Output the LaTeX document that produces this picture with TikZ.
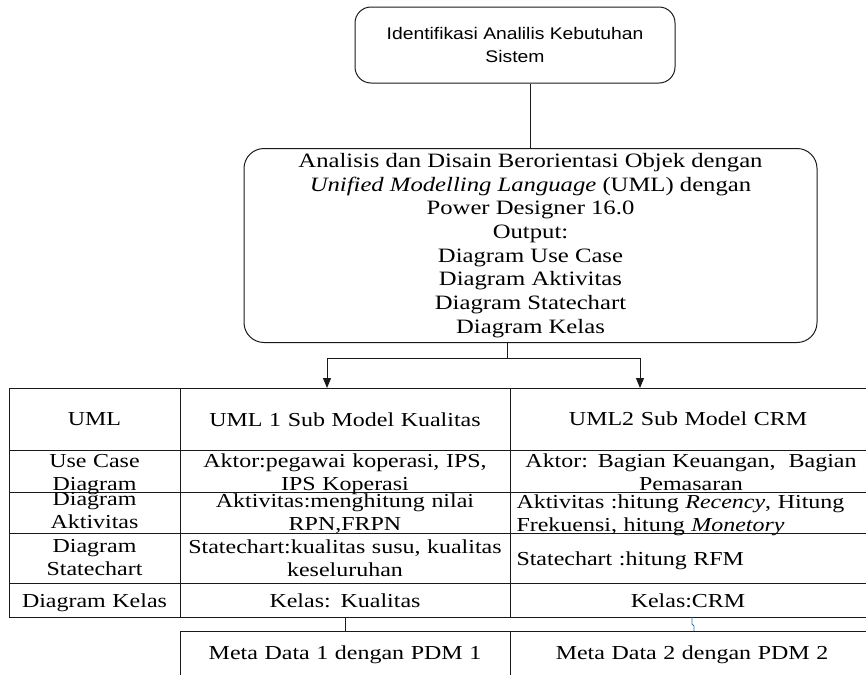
\documentclass[tikz,border=0pt]{standalone}
\usepackage{fontspec}
\setmainfont[FakeStretch=1.21]{Liberation Serif}
\newfontfamily\arialfont[FakeStretch=1.15]{Liberation Sans}
\usetikzlibrary{arrows.meta,positioning}
\definecolor{color_line}{HTML}{1a1a1a}
\definecolor{color_mark}{HTML}{2e74b5}

\begin{document}
\begin{tikzpicture}[x=1pt,y=-1pt,color_line,line width=1pt,
		every node/.style={inner sep=0pt,text=black},
		roundbox/.style={draw,rounded corners=16pt},
		celltext/.style={font=\fontsize{19.8}{23.8}\selectfont,align=center,text width=#1,anchor=base},
		leftcell/.style={font=\fontsize{19.8}{23.8}\selectfont,align=left,text width=#1,anchor=base west},
		flowarrow/.style={-{Triangle[length=10pt,width=8pt]}}]
	\useasboundingbox (0,0) rectangle (866,675);
	% Points
	\coordinate (split) at (507,358);
	\coordinate (colA) at (327,388);
	\coordinate (colB) at (640,388);
	\coordinate (tabfoot) at (345,617);
	\coordinate (metatop) at (345,631);

	% Boxes
	\node[roundbox,minimum width=320pt,minimum height=76pt,align=center,
		font=\arialfont\fontsize{16.8}{23}\selectfont] (ident) at (515,45)
		{Identifikasi Analilis Kebutuhan\\Sistem};
	\node[roundbox,rounded corners=20pt,minimum width=573pt,minimum height=194pt,align=center,
		font=\fontsize{20.4}{23.7}\selectfont] (ooad) at (530.5,245.5)
		{Analisis dan Disain Berorientasi Objek dengan\\
		\textit{Unified Modelling Language} (UML) dengan\\
		Power Designer 16.0\\
		Output:\\
		Diagram Use Case\\
		Diagram Aktivitas\\
		Diagram Statechart\\
		Diagram Kelas};

	% Connectors
	\draw (ident.south -| ooad.north) -- (ooad.north);
	\draw (ooad.south -| split) -- (split);
	\draw[flowarrow] (split) -| (colA);
	\draw[flowarrow] (split) -| (colB);

	% Table grid
	\foreach \y in {388,450,492,533,583,617}
		\draw (9,\y) -- (866,\y);
	\foreach \x in {9,180,510}
		\draw (\x,388) -- (\x,617);
	\draw (180,631) -- (866,631);
	\draw (180,631) -- (180,675);
	\draw (510,631) -- (510,675);
	\draw (tabfoot) -- (metatop);
	\draw[color_mark,line width=0.8pt] (692,617) -- (692,624) -- (694,626) -- (694,631);

	% Header row
	\node[celltext=160pt] (hUml) at (94.5,425) {UML};
	\node[celltext=320pt] (hSub1) at (345,426) {UML 1 Sub Model Kualitas};
	\node[celltext=350pt] (hSub2) at (688,425) {UML2 Sub Model CRM};

	% Use case row
	\node[celltext=160pt] (uc0) at (94.5,467) {Use Case\\Diagram};
	\node[celltext=325pt] (uc1) at (345,467) {Aktor:pegawai koperasi, IPS,\\IPS Koperasi};
	\node[celltext=352pt] (uc2) at (691,467) {Aktor: Bagian Keuangan,\ \ Bagian\\Pemasaran};

	% Activity row
	\node[celltext=160pt] (act0) at (94.5,505) {Diagram\\Aktivitas};
	\node[celltext=325pt] (act1) at (345,507) {Aktivitas:menghitung nilai\\RPN,FRPN};
	\node[leftcell=345pt] (act2) at (516,508) {Aktivitas :hitung \textit{Recency}, Hitung\\Frekuensi, hitung \textit{Monetory}};

	% Statechart row
	\node[celltext=160pt] (st0) at (94.5,552) {Diagram\\Statechart};
	\node[celltext=325pt] (st1) at (345,553) {Statechart:kualitas susu, kualitas\\keseluruhan};
	\node[leftcell=345pt] (st2) at (516,565) {Statechart :hitung RFM};

	% Class row
	\node[celltext=170pt] (cl0) at (94.5,607) {Diagram Kelas};
	\node[celltext=320pt] (cl1) at (345,607) {Kelas: Kualitas};
	\node[celltext=350pt] (cl2) at (688,607) {Kelas:CRM};

	% Meta data row
	\node[celltext=320pt] (meta1) at (345,659) {Meta Data 1 dengan PDM 1};
	\node[celltext=350pt] (meta2) at (692,659) {Meta Data 2 dengan PDM 2};
\end{tikzpicture}
\end{document}
